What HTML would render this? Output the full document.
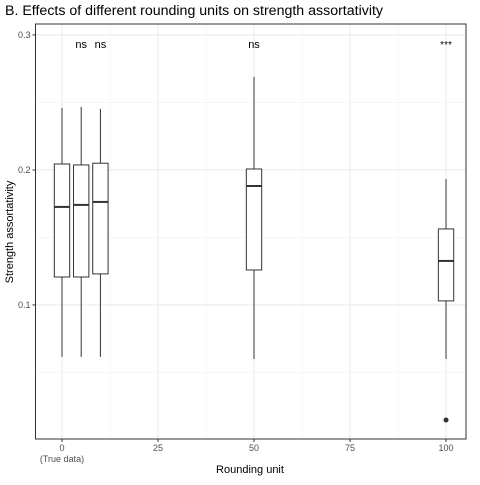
<!DOCTYPE html>
<html><head><meta charset="utf-8"><style>
body{margin:0;background:#fff;font-family:"Liberation Sans",sans-serif}
</style></head><body>
<svg id="chart" width="480" height="480" xmlns="http://www.w3.org/2000/svg" font-family="Liberation Sans, sans-serif">
<rect width="480" height="480" fill="#fff"/>
<text x="5" y="15" font-size="14.2" fill="#000">B. Effects of different rounding units on strength assortativity</text>
<g id="grid"></g>
<g id="marks"></g>
<rect x="35.5" y="24" width="430.5" height="415" fill="none" stroke="#333" stroke-width="1"/>
<g id="axes"></g>
<text x="250" y="473" font-size="11" text-anchor="middle" fill="#000">Rounding unit</text>
<text transform="translate(13,232) rotate(-90)" font-size="11" text-anchor="middle" fill="#000">Strength assortativity</text>
</svg>
<script>
const categories=[0,5,10,50,100];
const whiskerLow=[0.0615,0.0615,0.0615,0.060,0.060];
const q1=[0.1207,0.1207,0.123,0.1259,0.103];
const medians=[0.1726,0.1741,0.1763,0.1881,0.1326];
const q3=[0.2044,0.2037,0.205,0.2007,0.1563];
const whiskerHigh=[0.246,0.2467,0.2452,0.269,0.1933];
const outlierX=[100];
const outlierY=[0.0148];
const sigX=[5,10,50,100];
const sigLabels=["ns","ns","ns","***"];
const xTicks=[0,25,50,75,100];
const yTicks=[0.1,0.2,0.3];
const yMinor=[0.05,0.15,0.25];
const NS="http://www.w3.org/2000/svg";
const L=35.5,R=466,T=24,B=439;
const x0=-6.9,x1=105.2,y0=0.0007,y1=0.3081;
const sx=v=>L+(v-x0)/(x1-x0)*(R-L);
const sy=v=>B-(v-y0)/(y1-y0)*(B-T);
function mk(p,tag,a){const e=document.createElementNS(NS,tag);for(const k in a)e.setAttribute(k,a[k]);p.appendChild(e);return e;}
const grid=document.getElementById('grid'),marks=document.getElementById('marks'),axes=document.getElementById('axes');
yMinor.forEach(v=>{const l=mk(grid,'line',{x1:L,x2:R,y1:sy(v),y2:sy(v),stroke:'#f2f2f2','stroke-width':0.6});

});
[12.5,37.5,62.5,87.5].forEach(v=>{const l=mk(grid,'line',{x1:sx(v),x2:sx(v),y1:T,y2:B,stroke:'#f2f2f2','stroke-width':0.6});

});
yTicks.forEach(v=>{const l=mk(grid,'line',{x1:L,x2:R,y1:sy(v),y2:sy(v),stroke:'#ebebeb','stroke-width':1.1});


mk(axes,'line',{x1:L-3,x2:L,y1:sy(v),y2:sy(v),stroke:'#333'});
const t=mk(axes,'text',{x:L-5,y:sy(v)+3,'font-size':9,'text-anchor':'end',fill:'#4d4d4d'});t.textContent=v.toFixed(1);

});
xTicks.forEach(v=>{const l=mk(grid,'line',{x1:sx(v),x2:sx(v),y1:T,y2:B,stroke:'#ebebeb','stroke-width':1.1});


mk(axes,'line',{x1:sx(v),x2:sx(v),y1:B,y2:B+3,stroke:'#333'});
const t=mk(axes,'text',{x:sx(v),y:B+12,'font-size':9,'text-anchor':'middle',fill:'#4d4d4d'});t.textContent=v;

});
const td=mk(axes,'text',{x:sx(0),y:B+23,'font-size':9,'text-anchor':'middle',fill:'#4d4d4d'});td.textContent='(True data)';


const hw=2;
categories.forEach((c,i)=>{const g=mk(marks,'g',{});


const cx=sx(c);
mk(g,'line',{x1:cx,x2:cx,y1:sy(whiskerHigh[i]),y2:sy(q3[i]),stroke:'#333','stroke-width':1});
mk(g,'line',{x1:cx,x2:cx,y1:sy(q1[i]),y2:sy(whiskerLow[i]),stroke:'#333','stroke-width':1});
const xl=sx(c-hw),xr=sx(c+hw);
mk(g,'rect',{x:xl,y:sy(q3[i]),width:xr-xl,height:sy(q1[i])-sy(q3[i]),fill:'#fff',stroke:'#333','stroke-width':1});
mk(g,'line',{x1:xl,x2:xr,y1:sy(medians[i]),y2:sy(medians[i]),stroke:'#333','stroke-width':2});});
outlierX.forEach((c,i)=>{const p=mk(marks,'circle',{cx:sx(c),cy:sy(outlierY[i]),r:2.5,fill:'#333'});

});
sigX.forEach((c,i)=>{const t=mk(marks,'text',{x:sx(c),y:sy(0.3)+13,'font-size':sigLabels[i]==='***'?10:11,'text-anchor':'middle',fill:'#000'});t.textContent=sigLabels[i];

});
</script>
</body></html>
